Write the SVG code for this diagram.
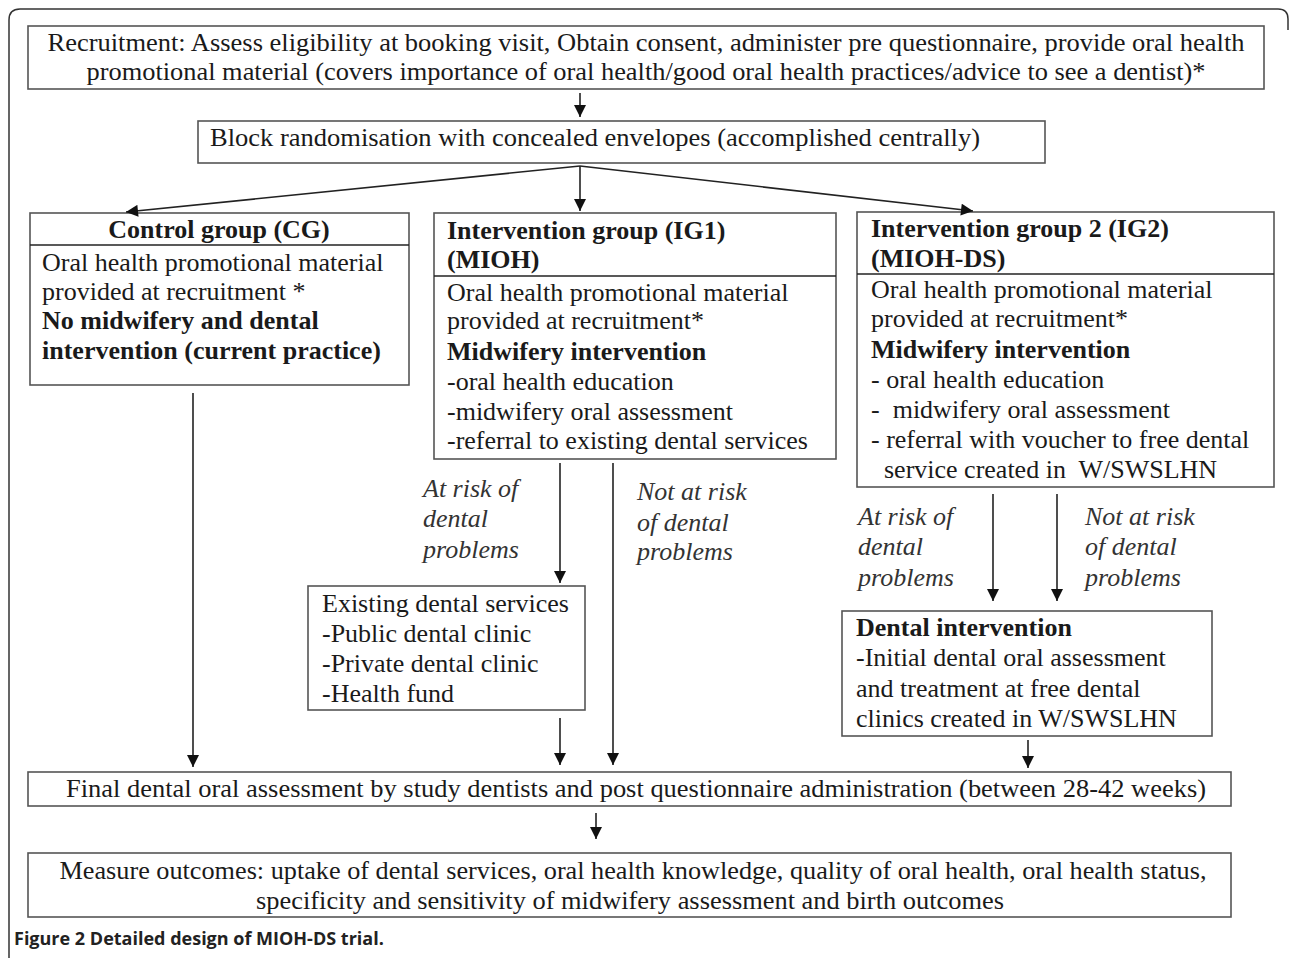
<svg xmlns="http://www.w3.org/2000/svg" width="1290" height="958" viewBox="0 0 1290 958">
<style>
.box{fill:#fff;stroke:#555;stroke-width:1.6}
.t{font-family:"Liberation Serif","Times New Roman",serif;font-size:26px;fill:#1a1a1a}
.b{font-weight:bold}
.i{font-style:italic;fill:#333}
.c{text-anchor:middle}
.ln{stroke:#222;stroke-width:1.6;fill:none}
.cap{font-family:"Open Sans","Liberation Sans",sans-serif;font-size:18px;font-weight:bold;fill:#222}
</style>
<defs>
<marker id="ah" viewBox="0 0 10 10" refX="10" refY="5" markerWidth="13" markerHeight="12" orient="auto" markerUnits="userSpaceOnUse">
<path d="M0,0 L10,5 L0,10 z" fill="#111"/>
</marker>
</defs>
<rect width="1290" height="958" fill="#fff"/>
<path d="M9,958 V20 Q9,9 20,9 H1278 Q1288,9 1288,19 V30" fill="none" stroke="#333" stroke-width="1.5"/>

<g id="recruitment">
<rect class="box" x="28" y="26" width="1236" height="63"/>
<text class="t c" x="646" y="51" textLength="1197" lengthAdjust="spacingAndGlyphs">Recruitment: Assess eligibility at booking visit, Obtain consent, administer pre questionnaire, provide oral health</text>
<text class="t c" x="646" y="80" textLength="1119" lengthAdjust="spacingAndGlyphs">promotional material (covers importance of oral health/good oral health practices/advice to see a dentist)*</text>
</g>

<g id="randomisation">
<rect class="box" x="198" y="121" width="847" height="42"/>
<text class="t" x="210" y="146" textLength="770" lengthAdjust="spacingAndGlyphs">Block randomisation with concealed envelopes (accomplished centrally)</text>
</g>

<g id="control">
<rect class="box" x="30" y="213" width="379" height="172"/>
<line class="ln" x1="30" y1="245" x2="409" y2="245" stroke="#555"/>
<text class="t b c" x="219" y="238">Control group (CG)</text>
<text class="t" x="42" y="271">Oral health promotional material</text>
<text class="t" x="42" y="300">provided at recruitment *</text>
<text class="t b" x="42" y="329">No midwifery and dental</text>
<text class="t b" x="42" y="359">intervention (current practice)</text>
</g>

<g id="ig1">
<rect class="box" x="434" y="213" width="402" height="246"/>
<line class="ln" x1="434" y1="276" x2="836" y2="276" stroke="#555"/>
<text class="t b" x="447" y="239">Intervention group (IG1)</text>
<text class="t b" x="447" y="268">(MIOH)</text>
<text class="t" x="447" y="301">Oral health promotional material</text>
<text class="t" x="447" y="329">provided at recruitment*</text>
<text class="t b" x="447" y="360">Midwifery intervention</text>
<text class="t" x="447" y="390">-oral health education</text>
<text class="t" x="447" y="420">-midwifery oral assessment</text>
<text class="t" x="447" y="449">-referral to existing dental services</text>
</g>

<g id="ig2">
<rect class="box" x="857" y="212" width="417" height="275"/>
<line class="ln" x1="857" y1="274" x2="1274" y2="274" stroke="#555"/>
<text class="t b" x="871" y="237">Intervention group 2 (IG2)</text>
<text class="t b" x="871" y="267">(MIOH-DS)</text>
<text class="t" x="871" y="298">Oral health promotional material</text>
<text class="t" x="871" y="327">provided at recruitment*</text>
<text class="t b" x="871" y="358">Midwifery intervention</text>
<text class="t" x="871" y="388">- oral health education</text>
<text class="t" x="871" y="418" xml:space="preserve">-  midwifery oral assessment</text>
<text class="t" x="871" y="448">- referral with voucher to free dental</text>
<text class="t" x="884" y="478" xml:space="preserve">service created in  W/SWSLHN</text>
</g>

<g id="existing">
<rect class="box" x="308" y="586" width="277" height="124"/>
<text class="t" x="322" y="612">Existing dental services</text>
<text class="t" x="322" y="642">-Public dental clinic</text>
<text class="t" x="322" y="672">-Private dental clinic</text>
<text class="t" x="322" y="702">-Health fund</text>
</g>

<g id="dental">
<rect class="box" x="842" y="611" width="370" height="125"/>
<text class="t b" x="856" y="636">Dental intervention</text>
<text class="t" x="856" y="666">-Initial dental oral assessment</text>
<text class="t" x="856" y="697">and treatment at free dental</text>
<text class="t" x="856" y="727">clinics created in W/SWSLHN</text>
</g>

<g id="final">
<rect class="box" x="28" y="772" width="1203" height="34"/>
<text class="t c" x="636" y="797" textLength="1140" lengthAdjust="spacingAndGlyphs">Final dental oral assessment by study dentists and post questionnaire administration (between 28-42 weeks)</text>
</g>

<g id="outcomes">
<rect class="box" x="28" y="853" width="1203" height="64"/>
<text class="t c" x="633" y="879" textLength="1147" lengthAdjust="spacingAndGlyphs">Measure outcomes: uptake of dental services, oral health knowledge, quality of oral health, oral health status,</text>
<text class="t c" x="630" y="909" textLength="748" lengthAdjust="spacingAndGlyphs">specificity and sensitivity of midwifery assessment and birth outcomes</text>
</g>

<g id="labels">
<text class="t i" x="423" y="497">At risk of</text>
<text class="t i" x="423" y="527">dental</text>
<text class="t i" x="423" y="558">problems</text>
<text class="t i" x="637" y="500">Not at risk</text>
<text class="t i" x="637" y="531">of dental</text>
<text class="t i" x="637" y="560">problems</text>
<text class="t i" x="858" y="525">At risk of</text>
<text class="t i" x="858" y="555">dental</text>
<text class="t i" x="858" y="586">problems</text>
<text class="t i" x="1085" y="525">Not at risk</text>
<text class="t i" x="1085" y="555">of dental</text>
<text class="t i" x="1085" y="586">problems</text>
</g>

<g id="connectors">
<line class="ln" x1="580" y1="93" x2="580" y2="117" marker-end="url(#ah)"/>
<line class="ln" x1="580" y1="166" x2="126" y2="212" marker-end="url(#ah)"/>
<line class="ln" x1="580" y1="166" x2="580" y2="211" marker-end="url(#ah)"/>
<line class="ln" x1="580" y1="166" x2="973" y2="211" marker-end="url(#ah)"/>
<line class="ln" x1="193" y1="393" x2="193" y2="767" marker-end="url(#ah)"/>
<line class="ln" x1="560" y1="463" x2="560" y2="583" marker-end="url(#ah)"/>
<line class="ln" x1="613" y1="463" x2="613" y2="765" marker-end="url(#ah)"/>
<line class="ln" x1="560" y1="718" x2="560" y2="765" marker-end="url(#ah)"/>
<line class="ln" x1="993" y1="494" x2="993" y2="601" marker-end="url(#ah)"/>
<line class="ln" x1="1057" y1="494" x2="1057" y2="601" marker-end="url(#ah)"/>
<line class="ln" x1="1028" y1="740" x2="1028" y2="768" marker-end="url(#ah)"/>
<line class="ln" x1="596" y1="813" x2="596" y2="839" marker-end="url(#ah)"/>
</g>

<text class="cap" x="14" y="945">Figure 2 Detailed design of MIOH-DS trial.</text>
</svg>
